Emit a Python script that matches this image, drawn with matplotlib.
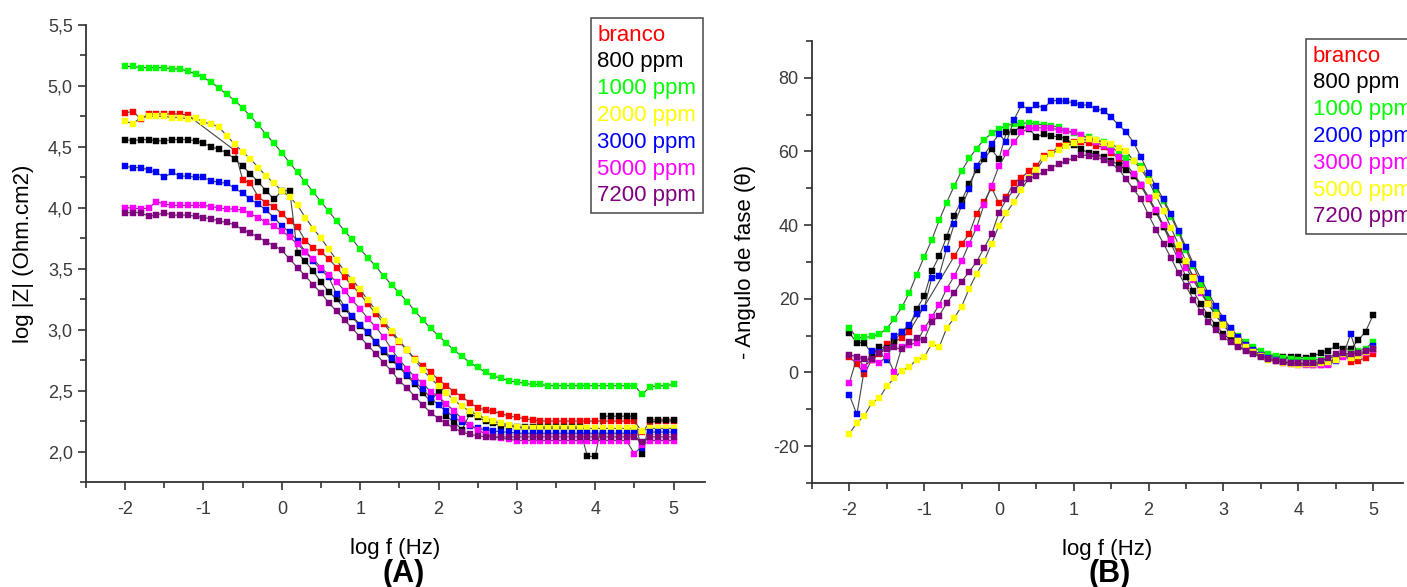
import matplotlib
matplotlib.use("Agg")
import matplotlib.pyplot as plt
from matplotlib.ticker import MultipleLocator, FuncFormatter

plt.rcParams['font.family'] = ['Liberation Sans', 'DejaVu Sans']
plt.rcParams['axes.unicode_minus'] = False

# log f (Hz), 10 points per decade
logf = [-2.0, -1.9, -1.8, -1.7, -1.6, -1.5, -1.4, -1.3, -1.2, -1.1,
        -1.0, -0.9, -0.8, -0.7, -0.6, -0.5, -0.4, -0.3, -0.2, -0.1,
        0.0, 0.1, 0.2, 0.3, 0.4, 0.5, 0.6, 0.7, 0.8, 0.9,
        1.0, 1.1, 1.2, 1.3, 1.4, 1.5, 1.6, 1.7, 1.8, 1.9,
        2.0, 2.1, 2.2, 2.3, 2.4, 2.5, 2.6, 2.7, 2.8, 2.9,
        3.0, 3.1, 3.2, 3.3, 3.4, 3.5, 3.6, 3.7, 3.8, 3.9,
        4.0, 4.1, 4.2, 4.3, 4.4, 4.5, 4.6, 4.7, 4.8, 4.9,
        5.0]

labels = ['branco', '800 ppm', '1000 ppm', '2000 ppm', '3000 ppm', '5000 ppm', '7200 ppm']

# ---- (A) log |Z| ----
z_branco = [4.78, 4.79, 4.73, 4.77, 4.77, 4.77, 4.77, 4.77, 4.76, None,
            None, None, None, None, 4.47, 4.23, 4.20, 4.09, 4.04, 4.01,
            3.95, 3.89, 3.84, 3.73, 3.67, 3.64, 3.58, 3.51, 3.43, 3.36,
            3.29, 3.21, 3.13, 3.05, 2.97, 2.90, 2.83, 2.76, 2.70, 2.65,
            2.59, 2.54, 2.49, 2.45, 2.40, 2.36, 2.34, 2.33, 2.31, 2.29,
            2.28, 2.27, 2.26, 2.25, 2.25, 2.25, 2.25, 2.25, 2.25, 2.25,
            2.25, 2.25, 2.25, 2.25, 2.25, 2.25, 2.16, 2.24, 2.25, 2.25,
            2.25]
z_800 = [4.56, 4.55, 4.56, 4.56, 4.55, 4.55, 4.56, 4.56, 4.56, 4.55,
         4.53, 4.50, 4.48, 4.45, 4.40, 4.34, 4.28, 4.21, 4.14, 4.07,
         4.14, 4.14, 3.63, 3.56, 3.48, 3.39, 3.31, 3.25, 3.17, 3.10,
         3.03, 2.97, 2.89, 2.82, 2.75, 2.69, 2.62, 2.55, 2.48, 2.41,
         2.50, 2.29, 2.24, 2.18, 2.31, 2.28, 2.25, 2.23, 2.21, 2.21,
         2.20, 2.20, 2.20, 2.20, 2.20, 2.20, 2.20, 2.20, 2.20, 1.96,
         1.96, 2.29, 2.29, 2.29, 2.29, 2.29, 1.98, 2.26, 2.26, 2.26,
         2.26]
z_1000 = [5.16, 5.16, 5.15, 5.15, 5.15, 5.15, 5.14, 5.14, 5.12, 5.10,
          5.07, 5.03, 4.98, 4.93, 4.88, 4.82, 4.75, 4.68, 4.60, 4.53,
          4.45, 4.37, 4.29, 4.21, 4.13, 4.05, 3.97, 3.89, 3.81, 3.74,
          3.66, 3.59, 3.52, 3.44, 3.37, 3.30, 3.23, 3.15, 3.08, 3.01,
          2.95, 2.89, 2.83, 2.78, 2.73, 2.69, 2.65, 2.62, 2.60, 2.58,
          2.57, 2.56, 2.55, 2.55, 2.54, 2.54, 2.54, 2.54, 2.54, 2.54,
          2.54, 2.54, 2.54, 2.54, 2.54, 2.54, 2.47, 2.53, 2.54, 2.54,
          2.55]
z_2000 = [4.71, 4.69, 4.74, 4.75, 4.75, 4.75, 4.74, 4.74, 4.73, 4.74,
          4.70, 4.69, 4.66, 4.59, 4.52, 4.46, 4.40, 4.33, 4.26, 4.20,
          4.14, 4.09, 4.02, 3.92, 3.83, 3.75, 3.66, 3.57, 3.48, 3.41,
          3.33, 3.24, 3.16, 3.07, 2.99, 2.91, 2.83, 2.75, 2.67, 2.60,
          2.54, 2.48, 2.42, 2.37, 2.33, 2.30, 2.27, 2.25, 2.23, 2.22,
          2.20, 2.19, 2.19, 2.19, 2.19, 2.19, 2.19, 2.19, 2.19, 2.19,
          2.19, 2.19, 2.19, 2.19, 2.19, 2.19, 2.17, 2.19, 2.19, 2.19,
          2.19]
z_3000 = [4.34, 4.33, 4.33, 4.31, 4.29, 4.25, 4.29, 4.26, 4.26, 4.25,
          4.25, 4.22, 4.21, 4.20, 4.16, 4.12, 4.07, 4.03, 3.98, 3.92,
          3.85, 3.80, 3.73, 3.64, 3.56, 3.49, 3.43, 3.29, 3.19, 3.11,
          3.04, 2.98, 2.90, 2.83, 2.77, 2.70, 2.63, 2.57, 2.51, 2.44,
          2.38, 2.33, 2.28, 2.24, 2.21, 2.19, 2.18, 2.17, 2.16, 2.16,
          2.15, 2.15, 2.15, 2.15, 2.15, 2.15, 2.15, 2.15, 2.15, 2.15,
          2.15, 2.15, 2.15, 2.15, 2.15, 2.15, 2.03, 2.16, 2.16, 2.16,
          2.16]
z_5000 = [4.00, 4.00, 3.99, 4.00, 4.05, 4.03, 4.02, 4.02, 4.02, 4.02,
          4.02, 4.01, 4.00, 3.99, 3.99, 3.98, 3.95, 3.92, 3.88, 3.85,
          3.81, 3.76, 3.70, 3.64, 3.58, 3.51, 3.45, 3.39, 3.32, 3.24,
          3.17, 3.09, 3.02, 2.94, 2.84, 2.75, 2.68, 2.61, 2.56, 2.49,
          2.45, 2.39, 2.33, 2.27, 2.22, 2.18, 2.14, 2.12, 2.11, 2.10,
          2.09, 2.09, 2.09, 2.09, 2.09, 2.09, 2.09, 2.09, 2.09, 2.09,
          2.09, 2.09, 2.09, 2.09, 2.09, 1.98, 2.05, 2.09, 2.09, 2.09,
          2.09]
z_7200 = [3.96, 3.96, 3.96, 3.93, 3.94, 3.96, 3.94, 3.94, 3.94, 3.93,
          3.92, 3.91, 3.89, 3.88, 3.86, 3.82, 3.79, 3.76, 3.72, 3.69,
          3.65, 3.58, 3.51, 3.44, 3.37, 3.30, 3.22, 3.15, 3.08, 3.01,
          2.94, 2.87, 2.80, 2.73, 2.66, 2.58, 2.52, 2.45, 2.38, 2.32,
          2.27, 2.23, 2.19, 2.16, 2.14, 2.13, 2.12, 2.12, 2.12, 2.12,
          2.12, 2.12, 2.12, 2.12, 2.12, 2.12, 2.12, 2.12, 2.12, 2.12,
          2.12, 2.12, 2.12, 2.12, 2.12, 2.12, 2.08, 2.12, 2.12, 2.12,
          2.12]

# ---- (B) - phase angle ----
p_branco = [4.2, 2.3, -0.4, 3.5, 5.0, 7.6, 8.5, 9.3, 11.1, None,
            None, None, None, None, 31.5, 34.9, 37.5, 43.1, 46.3, 50.2,
            45.9, 47.7, 51.5, 52.9, 54.7, 56.1, 58.8, 59.5, 61.5, 62.2,
            62.7, 62.5, 62.4, 61.5, 61.2, 59.7, 57.9, 55.6, 53.4, 50.5,
            47.0, 43.5, 39.5, 36.2, 32.9, 29.5, 26.0, 22.6, 19.3, 16.3,
            13.5, 11.0, 9.0, 7.2, 5.8, 4.8, 4.0, 3.5, 3.0, 2.6,
            2.3, 2.2, 2.1, 2.1, 2.2, 4.2, 5.5, 2.8, 3.2, 4.0,
            5.0]
p_800 = [10.7, 8.1, 8.1, 5.0, 7.0, 6.6, 8.5, 11.1, 12.5, 17.2,
         20.7, 27.5, 31.5, 36.8, 42.6, 46.7, 51.1, 55.0, 57.9, 60.6,
         57.9, 65.3, 65.3, 67.0, 66.1, 64.0, 64.7, 64.2, 64.0, 63.5,
         61.8, 60.6, 59.6, 59.3, 58.4, 57.5, 56.4, 55.0, 53.4, 51.0,
         47.5, 43.5, 39.5, 35.0, 30.5, 26.0, 22.0, 18.5, 15.5, 12.8,
         10.5, 8.7, 7.2, 6.0, 5.2, 4.6, 4.3, 4.2, 4.2, 4.1,
         4.1, 4.0, 4.5, 5.2, 5.9, 7.2, 6.5, 6.3, 8.7, 11.1,
         15.5]
p_1000 = [12.0, 9.5, 9.5, 9.8, 10.4, 11.9, 14.6, 17.7, 21.6, 26.6,
          31.4, 35.9, 41.3, 46.1, 50.6, 54.7, 58.1, 60.8, 63.2, 64.9,
          66.1, 67.0, 67.5, 67.7, 67.7, 67.5, 67.2, 67.0, 66.6, 65.6,
          65.0, 64.3, 63.8, 63.2, 62.5, 61.5, 59.5, 58.1, 57.5, 56.1,
          52.5, 49.3, 46.5, 42.3, 38.0, 33.2, 28.8, 24.1, 20.6, 17.0,
          14.0, 11.8, 9.8, 8.2, 6.8, 5.8, 5.0, 4.4, 4.0, 3.7,
          3.5, 3.4, 3.4, 3.5, 3.8, 4.3, 4.8, 5.3, 5.8, 6.5,
          8.3]
p_2000 = [-6.1, -11.4, 0.9, 5.9, 5.5, 3.4, 9.8, 11.0, 13.0, 16.0,
          17.5, 25.6, 26.3, 33.6, 40.2, 45.2, 49.7, 56.1, 59.0, 62.0,
          64.7, 62.5, 68.6, 72.6, 71.3, 72.6, 71.8, 73.8, 73.8, 73.6,
          73.2, 72.6, 72.6, 71.5, 71.1, 69.3, 67.2, 65.3, 62.4, 58.4,
          54.1, 50.5, 47.0, 43.0, 38.5, 34.0, 29.5, 25.5, 21.5, 18.0,
          14.8, 12.0, 9.5, 7.5, 6.0, 4.8, 4.0, 3.3, 2.9, 2.6,
          2.5, 2.4, 2.4, 2.3, 2.4, 3.0, 4.5, 10.4, 4.5, 5.7,
          7.2]
p_3000 = [-2.8, 4.0, 1.6, 3.5, 2.5, 4.5, 0.0, 6.8, 7.5, 8.1,
          12.0, 15.0, 18.4, 22.7, 26.1, 30.2, 34.9, 39.3, 45.6, 50.7,
          56.1, 59.5, 62.5, 65.2, 66.3, 66.4, 66.4, 66.3, 65.9, 65.5,
          65.2, 64.5, 63.5, 62.5, 61.5, 60.0, 58.5, 56.5, 54.0, 51.0,
          47.5, 44.0, 40.0, 36.0, 32.0, 28.5, 25.0, 21.5, 18.5, 15.5,
          13.0, 10.5, 8.5, 7.0, 5.6, 4.5, 3.6, 3.0, 2.5, 2.2,
          2.0, 2.0, 2.0, 2.1, 2.0, 3.4, 4.2, 4.5, 4.8, 5.3,
          6.0]
p_5000 = [-16.6, -13.7, -11.8, -8.2, -7.0, -3.7, -1.6, 0.5, 1.6, 3.4,
          4.1, 7.8, 6.9, 12.0, 14.8, 17.9, 22.7, 26.8, 30.2, 34.9,
          39.9, 43.4, 46.3, 49.5, 52.9, 55.0, 58.1, 59.3, 60.5, 61.5,
          62.2, 63.0, 63.4, 63.1, 62.4, 62.0, 60.9, 60.2, 57.4, 55.2,
          52.0, 47.9, 43.8, 39.3, 34.7, 30.2, 25.7, 22.0, 18.5, 15.5,
          12.8, 10.5, 8.5, 6.8, 5.5, 4.4, 3.5, 3.0, 2.6, 2.3,
          2.1, 2.2, 2.3, 2.5, 2.9, 3.5, 5.0, 4.0, 4.5, 5.5,
          6.5]
p_7200 = [4.8, 4.3, 3.6, 3.7, 5.3, 6.3, 6.8, 6.3, 8.4, 9.3,
          8.9, 13.8, 15.4, 18.8, 21.6, 24.7, 27.3, 30.0, 33.8, 37.5,
          43.4, 47.0, 49.6, 51.5, 52.6, 53.4, 54.5, 55.6, 56.6, 57.4,
          58.3, 59.0, 58.9, 58.5, 57.8, 56.8, 55.2, 52.5, 49.7, 47.0,
          42.8, 38.7, 35.0, 31.0, 27.0, 23.4, 19.8, 16.5, 13.8, 11.5,
          9.6, 8.2, 6.9, 5.9, 5.0, 4.3, 3.6, 3.2, 2.8, 2.6,
          2.5, 2.5, 2.6, 3.0, 4.0, 5.0, 5.2, 5.0, 5.3, 5.8,
          6.3]

colors_a = ['#ff0000', '#000000', '#00ff00', '#ffff00', '#0000ff', '#ff00ff', '#800080']
colors_b = ['#ff0000', '#000000', '#00ff00', '#0000ff', '#ff00ff', '#ffff00', '#800080']

series_a = [z_branco, z_800, z_1000, z_2000, z_3000, z_5000, z_7200]
series_b = [p_branco, p_800, p_1000, p_2000, p_3000, p_5000, p_7200]

fig = plt.figure(figsize=(14.07, 5.87), dpi=100)
ax1 = fig.add_axes([0.0611, 0.1789, 0.4399, 0.7785])
ax2 = fig.add_axes([0.5771, 0.1772, 0.4200, 0.7530])

axcol = '#333333'
txtcol = '#3a3a3a'


def draw(ax, series, colors):
    for vals, c, lab in zip(series, colors, labels):
        # missing points are skipped so the line joins across the gap
        xs = [x for x, v in zip(logf, vals) if v is not None]
        ys = [v for v in vals if v is not None]
        ax.plot(xs, ys, '-', color='#444444', lw=0.8, marker='s', ms=4.7,
                mfc=c, mec=c, mew=0.3, label=lab)
    for s in ['top', 'right']:
        ax.spines[s].set_visible(False)
    for s in ['left', 'bottom']:
        ax.spines[s].set_color(axcol)
        ax.spines[s].set_linewidth(1.3)
    ax.tick_params(which='both', direction='out', color=axcol, width=1.2,
                   labelsize=13, labelcolor=txtcol)
    ax.tick_params(which='major', length=6)
    ax.tick_params(which='minor', length=4)
    ax.tick_params(axis='x', pad=8)
    ax.set_xlim(-2.5, 5.4)
    ax.xaxis.set_major_locator(MultipleLocator(1))
    ax.xaxis.set_minor_locator(MultipleLocator(0.5))
    ax.set_xlabel('log f (Hz)', fontsize=16, labelpad=14)


def legend(ax, colors, anchor, loc):
    leg = ax.legend(loc=loc, bbox_to_anchor=anchor, bbox_transform=fig.transFigure,
                    fontsize=16, handlelength=0, handletextpad=0, borderpad=0.3,
                    labelspacing=0.26, borderaxespad=0, fancybox=False,
                    framealpha=1, edgecolor='#555555')
    leg.get_frame().set_linewidth(1.2)
    for h in leg.legend_handles:
        h.set_visible(False)
    for t, c in zip(leg.get_texts(), colors):
        t.set_color(c)


draw(ax1, series_a, colors_a)
ax1.set_ylim(1.75, 5.5)
ax1.yaxis.set_major_locator(MultipleLocator(0.5))
ax1.yaxis.set_minor_locator(MultipleLocator(0.25))
ax1.yaxis.set_major_formatter(FuncFormatter(lambda v, p: f"{v:.1f}".replace('.', ',')))
ax1.set_ylabel('log |Z| (Ohm.cm2)', fontsize=16, labelpad=10)
legend(ax1, colors_a, (703 / 1407, 1 - 18 / 587), 'upper right')

draw(ax2, series_b, colors_b)
ax2.set_ylim(-30, 90)
ax2.yaxis.set_major_locator(MultipleLocator(20))
ax2.yaxis.set_minor_locator(MultipleLocator(10))
ax2.set_ylabel('- Angulo de fase (θ)', fontsize=16, labelpad=12)
legend(ax2, colors_b, (1306 / 1407, 1 - 39 / 587), 'upper left')

fig.text(404 / 1407, 1 - 574 / 587, '(A)', fontsize=22, fontweight='bold', ha='center', va='center')
fig.text(1110 / 1407, 1 - 574 / 587, '(B)', fontsize=22, fontweight='bold', ha='center', va='center')

fig.savefig('out.png', dpi=100)
